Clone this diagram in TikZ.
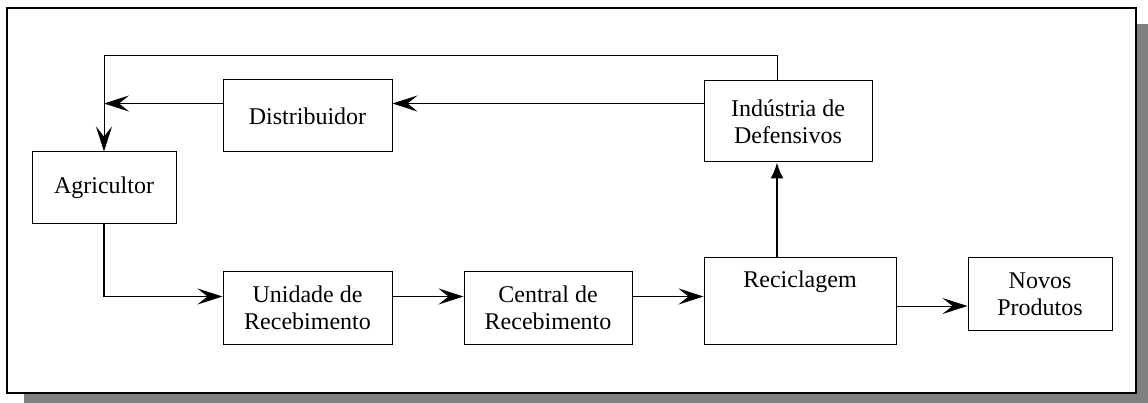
\documentclass[tikz,border=0pt]{standalone}
\usepackage{fontspec}
\setmainfont{Liberation Serif}
\usetikzlibrary{arrows.meta}
\begin{document}
\begin{tikzpicture}[x=1pt,y=-1pt,
  box/.style={draw, line width=1pt, inner sep=0pt, align=center,
    font=\fontsize{24}{27}\selectfont},
  flow/.style={line width=1pt, -{Stealth[length=25pt,width=16pt,inset=10pt]}},
  upflow/.style={line width=2pt, -{Latex[length=16pt,width=13pt]}},
  thickline/.style={line width=2pt}]
\useasboundingbox (0,0) rectangle (1148,403);
% shadow and frame
\fill[black!50] (24,24) rectangle (1148,403);
\draw[line width=2pt, fill=white] (7,8) rectangle (1136,393);
% boxes
\node[box, minimum width=144pt, minimum height=72pt] (agr) at (104,188) {Agricultor};
\node[box, minimum width=169pt, minimum height=72pt] (dist) at (307.5,116) {Distribuidor};
\node[box, minimum width=168pt, minimum height=81pt] (ind) at (788,121.5) {Indústria de\\Defensivos};
\node[box, minimum width=192pt, minimum height=86pt] (reci) at (800,301) {};
\node[font=\fontsize{24}{27}\selectfont, inner sep=0pt] (recitext) at (800,282) {Reciclagem};
\node[box, minimum width=169pt, minimum height=72pt] (unid) at (307.5,308) {Unidade de\\Recebimento};
\node[box, minimum width=168pt, minimum height=72pt] (cent) at (548,308) {Central de\\Recebimento};
\node[box, minimum width=144pt, minimum height=72pt] (novos) at (1040,294) {Novos\\Produtos};
% helper coordinates
\coordinate (vx) at (777,0);
\coordinate (top) at (777,56);
\coordinate (topl) at (104,56);
\coordinate (lowy) at (0,296.5);
\coordinate (corner) at (104,296.5);
\coordinate (disty) at (0,103.5);
\coordinate (distin) at (104,103.5);
\coordinate (novy) at (0,306);
% connectors
\draw[line width=1pt] (ind.north -| vx) -- (top) -- (topl);
\draw[flow] (topl) -- (agr.north);
\draw[flow] (ind.west |- disty) -- (dist.east |- disty);
\draw[flow] (dist.west |- disty) -- (distin);
\draw[thickline] (agr.south) -- (corner);
\draw[flow] (corner) -- (unid.west |- lowy);
\draw[flow] (unid.east |- lowy) -- (cent.west |- lowy);
\draw[flow] (cent.east |- lowy) -- (reci.west |- lowy);
\draw[upflow] (reci.north -| vx) -- (ind.south -| vx);
\draw[flow] (reci.east |- novy) -- (novos.west |- novy);
\end{tikzpicture}
\end{document}
